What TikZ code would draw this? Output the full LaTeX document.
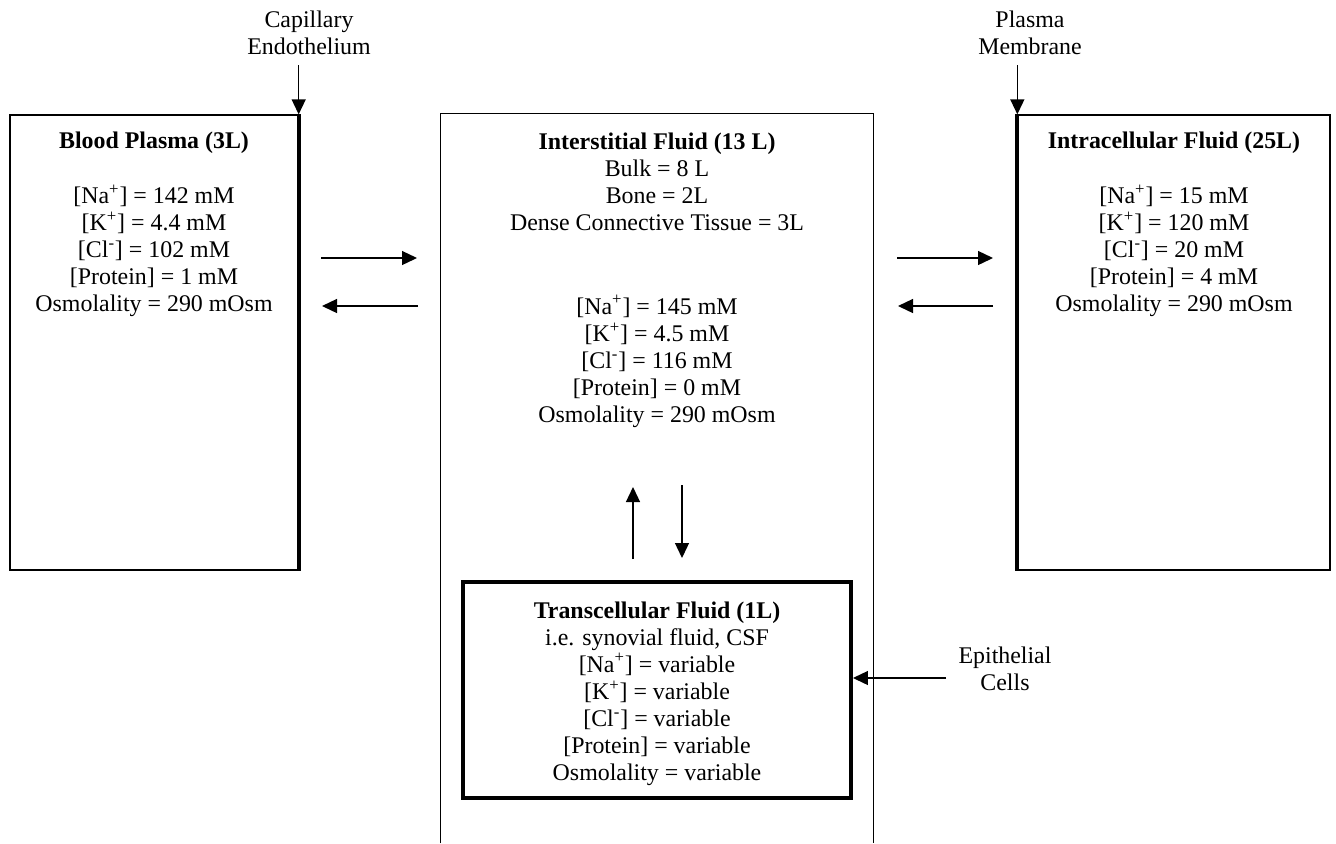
\documentclass[tikz,border=0pt]{standalone}
\usepackage{fontspec}
\setmainfont{Liberation Serif}
\usetikzlibrary{arrows.meta,positioning}
\newcommand{\ionNa}{[Na\textsuperscript{+}]}
\newcommand{\ionK}{[K\textsuperscript{+}]}
\newcommand{\ionCl}{[Cl\textsuperscript{-}]}
\tikzset{compartment/.style={
    % The shape:
    rectangle,
    % The border:
    draw=black,
    line width=0.8pt,
    inner sep=0pt,
    },
    transbox/.style={
    rectangle,
    draw=black,
    line width=2.3pt,
    inner sep=0pt,
    },
    membrane/.style={
    line width=2.3pt,
    },
    boxtext/.style={
    align=center,
    inner sep=0pt,
    font=\fontsize{13.6}{15.4}\selectfont,
    },
    flux/.style={
    line width=0.75pt,
    -{Triangle[length=0.3cm,width=0.28cm]},
    },
}

\begin{document}
\begin{tikzpicture}[x=0.02cm,y=-0.02cm]
    \useasboundingbox (0,0) rectangle (1336,843);

    % compartments
    \node (plasma) [compartment,minimum width=5.76cm,minimum height=9.1cm]  at (154,342.5)  {};
    \node (inter)  [inner sep=0pt,minimum width=8.64cm,minimum height=14.58cm] at (657,478.5) {};
    \node (intra)  [compartment,minimum width=6.24cm,minimum height=9.1cm]  at (1174,342.5) {};
    \node (trans)  [transbox,minimum width=7.76cm,minimum height=4.32cm]    at (657,690)    {};
    \draw [line width=0.8pt] (inter.south west) |- (inter.north east) -- (inter.south east);
    \draw [membrane] (plasma.north east) -- (plasma.south east);
    \draw [membrane] (intra.north west) -- (intra.south west);

    % box texts
    \node (ptitle) [boxtext] at (154,142.5) {\textbf{Blood Plasma (3L)}};
    \node (pvals)  [boxtext] at (154,251) {\ionNa{} = 142 mM\\\ionK{} = 4.4 mM\\\ionCl{} = 102 mM\\{[Protein]} = 1 mM\\Osmolality = 290 mOsm};
    \node (ititle) [boxtext] at (657,182) {\textbf{Interstitial Fluid (13 L)}\\Bulk = 8 L\\Bone = 2L\\Dense Connective Tissue = 3L};
    \node (ivals)  [boxtext] at (657,361.5) {\ionNa{} = 145 mM\\\ionK{} = 4.5 mM\\\ionCl{} = 116 mM\\{[Protein]} = 0 mM\\Osmolality = 290 mOsm};
    \node (ctitle) [boxtext] at (1174,142.5) {\textbf{Intracellular Fluid (25L)}};
    \node (cvals)  [boxtext] at (1174,251) {\ionNa{} = 15 mM\\\ionK{} = 120 mM\\\ionCl{} = 20 mM\\{[Protein]} = 4 mM\\Osmolality = 290 mOsm};
    \node (tvals)  [boxtext] at (657,693.5) {\textbf{Transcellular Fluid (1L)}\\i.e. synovial fluid, CSF\\\ionNa{} = variable\\\ionK{} = variable\\\ionCl{} = variable\\{[Protein]} = variable\\Osmolality = variable};

    % barrier labels
    \node (capil)  [boxtext] at (309,33)  {Capillary\\Endothelium};
    \node (pmemb)  [boxtext] at (1030,33) {Plasma\\Membrane};
    \node (epith)  [boxtext] at (1005,669) {Epithelial\\Cells};
    \coordinate (capiltail) at ([yshift=0.98cm]plasma.north east);
    \coordinate (pmembtail) at ([yshift=0.98cm]intra.north west);
    \coordinate (epithtail) at (946,678);
    \draw [flux] (capiltail) -- (plasma.north east);
    \draw [flux] (pmembtail) -- (intra.north west);
    \draw [flux] (epithtail) -- (trans.east |- epithtail);

    % exchange arrows
    \coordinate (pi1) at (321,258);  \coordinate (pi2) at (417,258);
    \coordinate (ip1) at (418,306);  \coordinate (ip2) at (322,306);
    \coordinate (ic1) at (897,258);  \coordinate (ic2) at (993,258);
    \coordinate (ci1) at (993,306);  \coordinate (ci2) at (898,306);
    \coordinate (ti1) at (633,559);  \coordinate (ti2) at (633,487);
    \coordinate (it1) at (682,485);  \coordinate (it2) at (682,558);
    \draw [flux] (pi1) -- (pi2);
    \draw [flux] (ip1) -- (ip2);
    \draw [flux] (ic1) -- (ic2);
    \draw [flux] (ci1) -- (ci2);
    \draw [flux] (ti1) -- (ti2);
    \draw [flux] (it1) -- (it2);
\end{tikzpicture}
\end{document}
